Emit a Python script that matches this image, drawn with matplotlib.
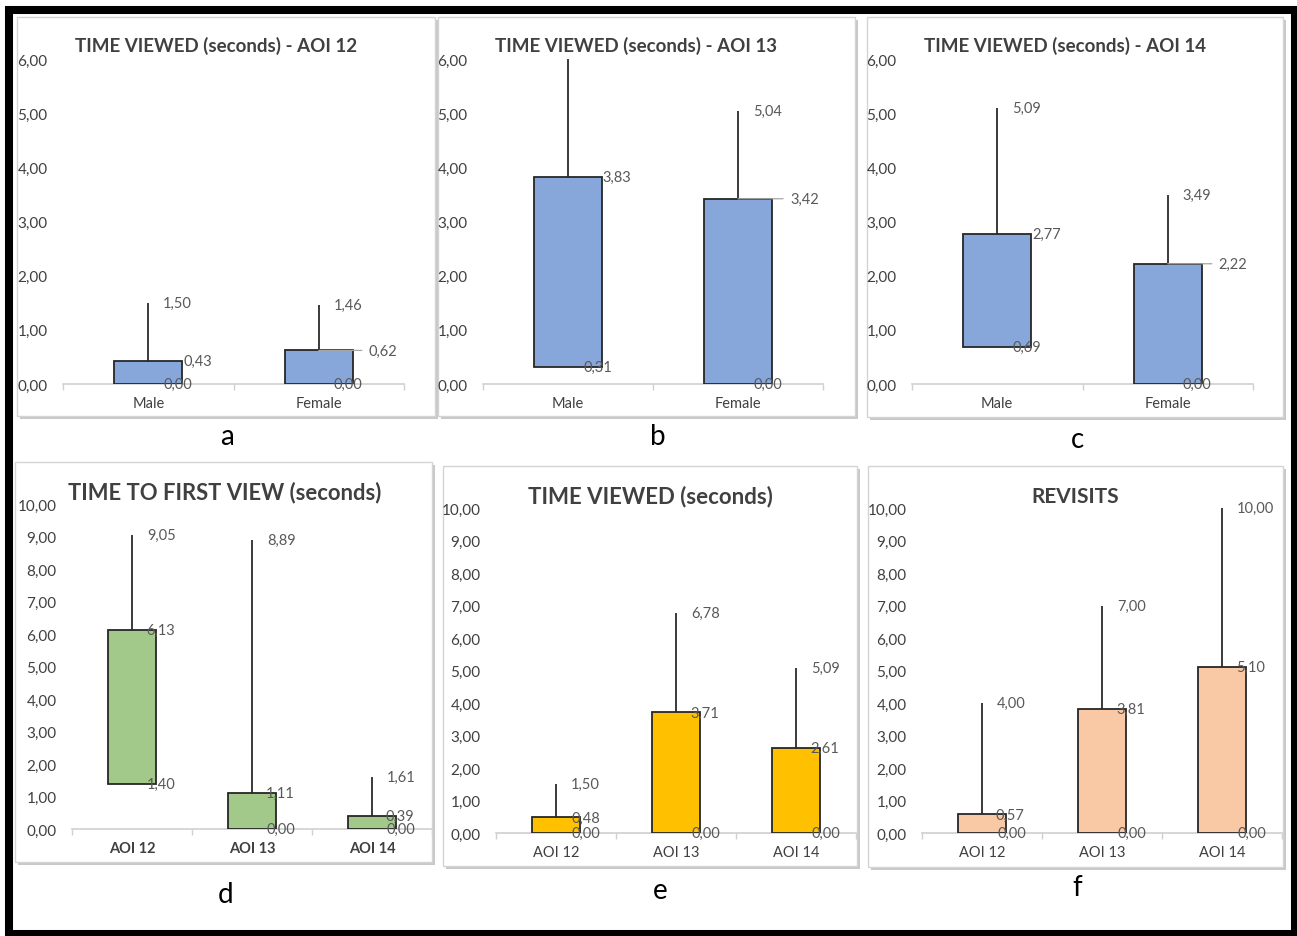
import matplotlib
matplotlib.use("Agg")
import matplotlib.pyplot as plt
from matplotlib.patches import Rectangle

W, H = 1297, 937

# --- data (min / mean / max per category) ---
gender = ["Male", "Female"]
aoi = ["AOI 12", "AOI 13", "AOI 14"]

a_min = [0.00, 0.00]
a_mean = [0.43, 0.62]
a_max = [1.50, 1.46]

b_min = [0.31, 0.00]
b_mean = [3.83, 3.42]
b_max = [6.00, 5.04]   # male whisker runs off the top of the axis, no label shown

c_min = [0.69, 0.00]
c_mean = [2.77, 2.22]
c_max = [5.09, 3.49]

d_min = [1.40, 0.00, 0.00]
d_mean = [6.13, 1.11, 0.39]
d_max = [9.05, 8.89, 1.61]

e_min = [0.00, 0.00, 0.00]
e_mean = [0.48, 3.71, 2.61]
e_max = [1.50, 6.78, 5.09]

f_min = [0.00, 0.00, 0.00]
f_mean = [0.57, 3.81, 5.10]
f_max = [4.00, 7.00, 10.00]

BLUE = "#87a6da"
GREEN = "#a2c98a"
GOLD = "#ffc000"
PEACH = "#f9c9a6"

plt.rcParams["font.family"] = ["Lato", "DejaVu Sans"]

fig = plt.figure(figsize=(W / 100, H / 100), dpi=100)


def fx(x):
    return x / W


def fy(y):
    return 1 - y / H


def comma(v):
    return f"{v:.2f}".replace(".", ",")


def panel_box(x0, y0, x1, y1):
    # soft shadow then white card with light border, both behind the axes
    fig.patches.append(Rectangle((fx(x0 + 3), fy(y1 + 3)), fx(x1 - x0), (y1 - y0) / H,
                                 transform=fig.transFigure, facecolor="#c8c8c8",
                                 edgecolor="none", zorder=-2))
    fig.patches.append(Rectangle((fx(x0), fy(y1)), fx(x1 - x0), (y1 - y0) / H,
                                 transform=fig.transFigure, facecolor="white",
                                 edgecolor="#d4d4d4", lw=1.0, zorder=-1))


def draw_panel(box, area, cats, mins, means, maxs, color, ymax, ystep,
               title, title_xy, title_size, letter, letter_xy,
               mean_dx, leaders=(), bold_cats=False, hide_max=()):
    panel_box(*box)
    x0, y_top, x1, y_bot = area
    ax = fig.add_axes([fx(x0), fy(y_bot), fx(x1 - x0), (y_bot - y_top) / H])
    ax.patch.set_alpha(0)
    n = len(cats)
    xs = [i + 0.5 for i in range(n)]
    ax.set_xlim(0, n)
    ax.set_ylim(0, ymax)

    heights = [m - lo for m, lo in zip(means, mins)]
    ax.bar(xs, heights, bottom=mins, width=0.4, color=color,
           edgecolor="#262626", linewidth=1.3, zorder=3)
    ax.vlines(xs, means, maxs, color="#3a3a3a", linewidth=1.4, zorder=2)

    lab = dict(textcoords="offset pixels", ha="left", va="center",
               fontsize=10.5, color="#595959", zorder=5)
    for i, x in enumerate(xs):
        if i not in hide_max:
            ax.annotate(comma(maxs[i]), (x, maxs[i]), xytext=(15, 0), **lab)
        ax.annotate(comma(mins[i]), (x, mins[i]), xytext=(15, 0), **lab)
        if i in leaders:
            ax.annotate(comma(means[i]), (x, means[i]), xytext=(mean_dx[i], 0),
                        arrowprops=dict(arrowstyle="-", color="#a6a6a6", lw=0.9,
                                        shrinkA=3, shrinkB=0, relpos=(0, 0.5)),
                        **lab)
        else:
            ax.annotate(comma(means[i]), (x, means[i]), xytext=(mean_dx[i], 0), **lab)

    for s in ["top", "right", "left"]:
        ax.spines[s].set_visible(False)
    ax.spines["bottom"].set_color("#d0d0d0")
    ax.spines["bottom"].set_linewidth(1.2)

    yt = [ystep * k for k in range(int(round(ymax / ystep)) + 1)]
    ax.set_yticks(yt)
    ax.set_yticklabels([comma(v) for v in yt], fontsize=11, color="#404040")
    ax.tick_params(axis="y", length=0, pad=11)

    ax.set_xticks(xs)
    ax.set_xticklabels(cats, fontsize=10.5, color="#404040",
                       fontweight="bold" if bold_cats else "normal")
    ax.tick_params(axis="x", length=0, pad=9)
    ax.set_xticks(range(n + 1), minor=True)
    ax.tick_params(axis="x", which="minor", length=4, color="#d0d0d0", width=1)

    fig.text(fx(title_xy[0]), fy(title_xy[1]), title, ha="center", va="center",
             fontsize=title_size, fontweight="bold", color="#404040")
    fig.text(fx(letter_xy[0]), fy(letter_xy[1]), letter, ha="center", va="center",
             fontsize=20, color="black")
    return ax


draw_panel((17, 18, 435, 417), (63, 60, 404, 385), gender,
           a_min, a_mean, a_max, BLUE, 6, 1,
           "TIME VIEWED (seconds) - AOI 12", (216, 46), 13.5, "a", (227, 437),
           mean_dx=[35, 50], leaders=(1,))
draw_panel((438, 18, 855, 417), (483, 60, 823, 385), gender,
           b_min, b_mean, b_max, BLUE, 6, 1,
           "TIME VIEWED (seconds) - AOI 13", (636, 46), 13.5, "b", (658, 437),
           mean_dx=[34, 52], leaders=(1,), hide_max=(0,))
draw_panel((867, 18, 1283, 418), (912, 60, 1253, 385), gender,
           c_min, c_mean, c_max, BLUE, 6, 1,
           "TIME VIEWED (seconds) - AOI 14", (1065, 46), 13.5, "c", (1077, 440),
           mean_dx=[35, 51], leaders=(1,))
draw_panel((15, 463, 432, 863), (72, 505, 432, 830), aoi,
           d_min, d_mean, d_max, GREEN, 10, 1,
           "TIME TO FIRST VIEW (seconds)", (225, 493), 15.8, "d", (226, 895),
           mean_dx=[14, 14, 14], bold_cats=True)
draw_panel((443, 467, 857, 867), (496, 509, 856, 834), aoi,
           e_min, e_mean, e_max, GOLD, 10, 1,
           "TIME VIEWED (seconds)", (650, 497), 16, "e", (660, 891),
           mean_dx=[16, 14, 14])
draw_panel((868, 467, 1283, 868), (922, 509, 1282, 834), aoi,
           f_min, f_mean, f_max, PEACH, 10, 1,
           "REVISITS", (1075, 497), 15, "f", (1077, 888),
           mean_dx=[14, 14, 14])

# heavy black frame round the whole figure
fig.patches.append(Rectangle((fx(9), fy(935)), fx(1295 - 9), (935 - 11) / H,
                             transform=fig.transFigure, facecolor="none",
                             edgecolor="black", lw=5.8, zorder=10))

fig.savefig("out.png", dpi=100)
